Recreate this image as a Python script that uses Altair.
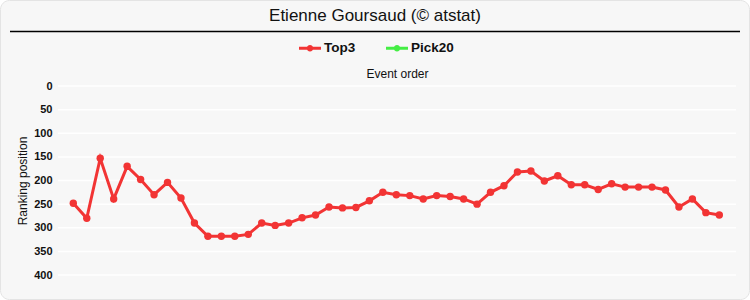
import altair as alt
import pandas as pd

events = list(range(1, 50))
top3 = [248, 280, 153, 239, 170, 198, 230, 204, 237, 290,
        318, 318, 318, 314, 290, 295, 290, 279, 273, 256,
        258, 257, 243, 225, 230, 232, 239, 232, 234, 239,
        250, 225, 211, 182, 180, 201, 190, 209, 209, 219,
        207, 214, 214, 214, 220, 256, 239, 268, 273]
series_names = ["Top3", "Pick20"]
series_colors = ["#f23434", "#44ee44"]
grid_values = [0, 50, 100, 150, 200, 250, 300, 350, 400]

df = pd.DataFrame({"event": events, "rank": top3, "series": ["Top3"] * len(events)})
grid_df = pd.DataFrame({"rank": grid_values})
one = pd.DataFrame({"k": [0]})

W, H = 678, 189
L, T = 58, 86

x_axis = alt.Axis(orient="top", title="Event order", labels=False, ticks=False,
                  domain=False, grid=False, titleFontSize=12,
                  titleFontWeight="normal", titleFont="Liberation Sans",
                  titleColor="#111", titlePadding=6, zindex=2)
x_enc = alt.X("event:Q",
              scale=alt.Scale(domain=[-0.137, 50.24], nice=False, zero=False),
              axis=x_axis)
y_scale = alt.Scale(domain=[0, 400], reverse=True, nice=False)
y_axis = alt.Axis(values=grid_values, title="Ranking position", grid=False,
                  ticks=False, domain=False, labelFontWeight="bold",
                  labelFontSize=11, labelFont="Liberation Sans", labelColor="#111",
                  labelPadding=6, titleFontSize=12, titleFontWeight="normal",
                  titleFont="Liberation Sans", titleColor="#111", titlePadding=4,
                  zindex=2)
y_enc = alt.Y("rank:Q", scale=y_scale, axis=y_axis)
color_scale = alt.Scale(domain=series_names, range=series_colors)

legend_shape = ("M-1,-0.14L1,-0.14L1,0.14L-1,0.14Z "
                "M0.3,0A0.3,0.3 0 1,1 -0.3,0A0.3,0.3 0 1,1 0.3,0Z")
legend = alt.Legend(title=None, orient="none", direction="horizontal",
                    legendX=299 - L, legendY=37 - T,
                    symbolType=legend_shape, symbolSize=484,
                    symbolStrokeWidth=0, symbolOpacity=1,
                    labelFontSize=13.5, labelFontWeight="bold",
                    labelFont="Liberation Sans", labelColor="#111",
                    labelOffset=3, columnPadding=30, padding=0, zindex=2)
color_enc = alt.Color("series:N", scale=color_scale, legend=legend)

bg = alt.Chart(one).mark_rect(fill="#f7f7f7", stroke="#e4e4e4", strokeWidth=1,
                              cornerRadius=9).encode(
    x=alt.value(-L + 0.5), x2=alt.value(750 - L - 0.5),
    y=alt.value(-T + 0.5), y2=alt.value(300 - T - 0.5))

sep = alt.Chart(one).mark_rule(color="black", strokeWidth=1.5).encode(
    x=alt.value(10 - L), x2=alt.value(740 - L), y=alt.value(31.5 - T))

grid = alt.Chart(grid_df).mark_rule(color="white", strokeWidth=1.5).encode(
    y=y_enc, x=alt.value(0), x2=alt.value(W))

line = alt.Chart(df).mark_line(strokeWidth=3).encode(
    x=x_enc, y=y_enc, color=color_enc)

points = alt.Chart(df).mark_point(filled=True, size=55, opacity=1).encode(
    x=x_enc, y=y_enc, color=color_enc)

chart = alt.layer(bg, sep, grid, line, points).properties(
    width=W, height=H,
    autosize=alt.AutoSizeParams(type="none"),
    padding={"left": L, "top": T, "right": 750 - L - W, "bottom": 300 - T - H},
    background="white",
    title=alt.TitleParams("Etienne Goursaud (© atstat)", fontSize=17, fontWeight="normal",
                          font="Liberation Sans", color="#111", anchor="middle",
                          dx=-22, offset=-25, zindex=2),
).configure_view(stroke=None)

chart.save("out.html", embed_options={"renderer": "svg", "actions": False})
